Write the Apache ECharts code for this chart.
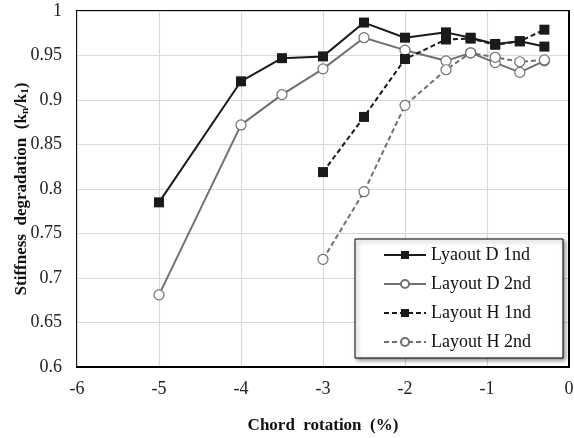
<!DOCTYPE html>
<html>
<head>
<meta charset="utf-8">
<script src="https://cdn.jsdelivr.net/npm/echarts@6/dist/echarts.min.js"></script>
<style>
  html, body { margin: 0; padding: 0; background: #fff; }
  #chart { width: 574px; height: 438px; }
</style>
</head>
<body>
<div id="chart"></div>
<script>
// chord rotation (%) and stiffness ratio kn/k1
var rotD = [-5, -4, -3.5, -3, -2.5, -2, -1.5, -1.2, -0.9, -0.6, -0.3];
var d1nd = [0.785, 0.921, 0.947, 0.949, 0.987, 0.970, 0.976, 0.970, 0.963, 0.966, 0.960];
var d2nd = [0.681, 0.872, 0.906, 0.935, 0.970, 0.956, 0.944, 0.953, 0.942, 0.931, 0.944];

var rotH = [-3, -2.5, -2, -1.5, -1.2, -0.9, -0.6, -0.3];
var h1nd = [0.819, 0.881, 0.946, 0.968, 0.969, 0.962, 0.966, 0.979];
var h2nd = [0.721, 0.797, 0.894, 0.934, 0.953, 0.948, 0.943, 0.945];

var seriesNames = ['Lyaout D 1nd', 'Layout D 2nd', 'Layout H 1nd', 'Layout H 2nd'];

function pairs(xs, ys) {
  var out = [];
  for (let i = 0; i < xs.length; i++) out.push([xs[i], ys[i]]);
  return out;
}

var font = '"Liberation Serif", "Times New Roman", serif';
var chart = echarts.init(document.getElementById('chart'));

function makeSeries(name, data, color, dashed, filled) {
  return {
    name: name,
    type: 'line',
    data: data,
    symbol: filled ? 'rect' : 'circle',
    symbolSize: 10,
    showSymbol: true,
    lineStyle: { color: color, width: 2, type: dashed ? [5, 3] : 'solid' },
    itemStyle: {
      color: filled ? color : '#fff',
      borderColor: color,
      borderWidth: filled ? 0 : 1.2
    },
    emphasis: { disabled: true },
    z: filled ? 3 : 2
  };
}

chart.setOption({
  animation: false,
  grid: {
    left: 77, right: 5, top: 11, bottom: 71,
    containLabel: false, outerBoundsMode: 'none',
    show: true, borderColor: '#000', borderWidth: 2
  },
  legend: {
    orient: 'vertical',
    right: 11, top: 239,
    data: seriesNames,
    itemWidth: 42, itemHeight: 10, itemGap: 11,
    padding: [7, 32, 7, 28],
    backgroundColor: '#fff',
    borderColor: '#000', borderWidth: 1,
    shadowColor: 'rgba(0,0,0,0.45)', shadowBlur: 4, shadowOffsetX: 2, shadowOffsetY: 2,
    textStyle: { fontFamily: font, fontSize: 18, color: '#111' }
  },
  xAxis: {
    type: 'value',
    min: -6, max: 0, interval: 1,
    name: 'Chord  rotation  (%)',
    nameLocation: 'middle', nameGap: 50, nameMoveOverlap: false,
    nameTextStyle: { fontFamily: font, fontSize: 17, fontWeight: 'bold', color: '#111' },
    axisLine: { show: true, lineStyle: { color: '#000', width: 2 } },
    axisTick: { show: false },
    axisLabel: { fontFamily: font, fontSize: 18, color: '#222', margin: 13 },
    splitLine: { show: true, lineStyle: { color: '#d9d9d9', width: 1.2 } }
  },
  yAxis: {
    type: 'value',
    min: 0.6, max: 1, interval: 0.05,
    name: '{b|Stiffness  degradation  (k}{s|n}{b|/k}{s|1}{b|)}',
    nameLocation: 'middle', nameGap: 46, nameRotate: 90, nameMoveOverlap: false,
    nameTextStyle: {
      fontFamily: font, fontSize: 17, fontWeight: 'bold', color: '#111',
      rich: {
        b: { fontFamily: font, fontSize: 17, fontWeight: 'bold', color: '#111' },
        s: { fontFamily: font, fontSize: 11, fontWeight: 'bold', color: '#111', verticalAlign: 'bottom', padding: [7, 0, 0, 0] }
      }
    },
    axisLine: { show: true, lineStyle: { color: '#000', width: 2 } },
    axisTick: { show: false },
    axisLabel: { fontFamily: font, fontSize: 18, color: '#222', margin: 15 },
    splitLine: { show: true, lineStyle: { color: '#d9d9d9', width: 1.2 } }
  },
  series: [
    makeSeries(seriesNames[0], pairs(rotD, d1nd), '#1a1a1a', false, true),
    makeSeries(seriesNames[1], pairs(rotD, d2nd), '#707070', false, false),
    makeSeries(seriesNames[2], pairs(rotH, h1nd), '#1a1a1a', true, true),
    makeSeries(seriesNames[3], pairs(rotH, h2nd), '#707070', true, false)
  ]
});
</script>
</body>
</html>
